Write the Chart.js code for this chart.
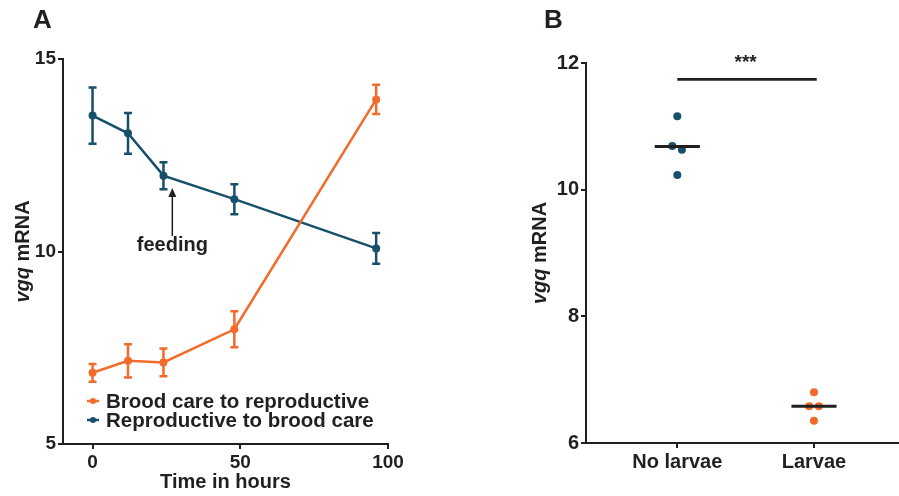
<!DOCTYPE html>
<html>
<head>
<meta charset="utf-8">
<script src="https://cdn.jsdelivr.net/npm/chart.js@4.4.0/dist/chart.umd.min.js"></script>
<style>
  body { margin: 0; background: #fff; }
  #wrap { position: relative; width: 899px; height: 496px; overflow: hidden; }
  canvas { position: absolute; top: 0; }
  .panel { position: absolute; top: 4px; font: bold 26px "Liberation Sans", Arial, sans-serif; color: #231f20; }
</style>
</head>
<body>
<div id="wrap">
  <canvas id="chartA" width="440" height="496" style="left:0"></canvas>
  <canvas id="chartB" width="453" height="496" style="left:450px"></canvas>
  <div class="panel" style="left:33px">A</div>
  <div class="panel" style="left:544px">B</div>
</div>
<script>
// Panel A data
const hours = [0, 12, 24, 48, 96];
const broodToRepro = [6.85, 7.16, 7.12, 7.98, 13.95];
const broodToReproErr = [0.23, 0.43, 0.36, 0.47, 0.38];
const reproToBrood = [13.53, 13.07, 11.97, 11.36, 10.08];
const reproToBroodErr = [0.73, 0.53, 0.35, 0.39, 0.40];
const xTicksA = [0, 50, 100];
const yTicksA = [5, 10, 15];
const feeding = { hour: 27, from: 10.4, to: 11.65, label: 'feeding' };

// Panel B data
const groups = ['No larvae', 'Larvae'];
const noLarvae = [11.16, 10.69, 10.63, 10.23];
const noLarvaeJitter = [0, -0.037, 0.034, 0];
const larvae = [6.80, 6.58, 6.58, 6.35];
const larvaeJitter = [0, -0.035, 0.036, 0];
const medians = [10.68, 6.58];
const yTicksB = [6, 8, 10, 12];
const signif = { y: 11.74, label: '***' };

const orange = '#f26b2a';
const teal = '#17506a';
const ink = '#231f20';
const FONT = '"Liberation Sans", Arial, sans-serif';

function drawYTitle(ctx, x, y, size) {
    ctx.save();
    ctx.translate(x, y);
    ctx.rotate(-Math.PI / 2);
    const it = 'italic bold ' + size + 'px ' + FONT;
    const bd = 'bold ' + size + 'px ' + FONT;
    ctx.font = it;
    const w1 = ctx.measureText('vgq ').width;
    ctx.font = bd;
    const w2 = ctx.measureText('mRNA').width;
    const start = -(w1 + w2) / 2;
    ctx.fillStyle = ink;
    ctx.textBaseline = 'middle';
    ctx.textAlign = 'left';
    ctx.font = it;
    ctx.fillText('vgq ', start, 0);
    ctx.font = bd;
    ctx.fillText('mRNA', start + w1, 0);
    ctx.restore();
}

// error bars, legend, arrow, y title for panel A
const panelAExtras = {
    id: 'panelAExtras',
    afterDatasetsDraw(chart) {
        const ctx = chart.ctx;
        const xs = chart.scales.x, ys = chart.scales.y;
        chart.data.datasets.forEach(ds => {
            ctx.save();
            ctx.strokeStyle = ds.borderColor;
            ctx.lineWidth = 2.5;
            ds.data.forEach((p, i) => {
                const x = xs.getPixelForValue(p.x);
                const yt = ys.getPixelForValue(p.y + ds.errors[i]);
                const yb = ys.getPixelForValue(p.y - ds.errors[i]);
                ctx.beginPath();
                ctx.moveTo(x, yt); ctx.lineTo(x, yb);
                ctx.moveTo(x - 4, yt); ctx.lineTo(x + 4, yt);
                ctx.moveTo(x - 4, yb); ctx.lineTo(x + 4, yb);
                ctx.stroke();
            });
            ctx.restore();
        });

        // feeding arrow
        const ax = xs.getPixelForValue(feeding.hour);
        const a0 = ys.getPixelForValue(feeding.from);
        const a1 = ys.getPixelForValue(feeding.to);
        ctx.save();
        ctx.strokeStyle = ink;
        ctx.fillStyle = ink;
        ctx.lineWidth = 1.5;
        ctx.beginPath();
        ctx.moveTo(ax, a0); ctx.lineTo(ax, a1 + 6);
        ctx.stroke();
        ctx.beginPath();
        ctx.moveTo(ax, a1); ctx.lineTo(ax - 4, a1 + 9); ctx.lineTo(ax + 4, a1 + 9);
        ctx.closePath();
        ctx.fill();
        ctx.font = 'bold 20px ' + FONT;
        ctx.textAlign = 'center';
        ctx.textBaseline = 'middle';
        ctx.fillText(feeding.label, ax, a0 + 9);
        ctx.restore();

        // legend
        ctx.save();
        chart.data.datasets.forEach((ds, i) => {
            const ly = 401 + i * 19;
            ctx.strokeStyle = ds.borderColor;
            ctx.fillStyle = ds.borderColor;
            ctx.lineWidth = 2.5;
            ctx.beginPath();
            ctx.moveTo(87, ly); ctx.lineTo(99, ly);
            ctx.stroke();
            ctx.beginPath();
            ctx.arc(93, ly, 3, 0, Math.PI * 2);
            ctx.fill();
            ctx.fillStyle = ink;
            ctx.font = 'bold 20.5px ' + FONT;
            ctx.textAlign = 'left';
            ctx.textBaseline = 'middle';
            ctx.fillText(ds.label, 106, ly + 1);
        });
        ctx.restore();

        drawYTitle(ctx, 23, (ys.top + ys.bottom) / 2, 20);
    }
};

const axisStyle = (ticks, fontSize) => ({
    afterBuildTicks: s => { s.ticks = ticks.map(v => ({ value: v })); },
    grid: { display: true, drawOnChartArea: false, drawTicks: true, tickLength: 5, color: ink, lineWidth: 2 },
    border: { display: true, color: ink, width: 2 },
    ticks: { color: ink, font: { family: FONT, size: fontSize, weight: 'bold' }, padding: 2 }
});

new Chart(document.getElementById('chartA'), {
    type: 'line',
    data: {
        datasets: [
            {
                label: 'Brood care to reproductive',
                data: hours.map((h, i) => ({ x: h, y: broodToRepro[i] })),
                errors: broodToReproErr,
                borderColor: orange, backgroundColor: orange,
                borderWidth: 2.5, pointRadius: 4, pointBorderWidth: 0
            },
            {
                label: 'Reproductive to brood care',
                data: hours.map((h, i) => ({ x: h, y: reproToBrood[i] })),
                errors: reproToBroodErr,
                borderColor: teal, backgroundColor: teal,
                borderWidth: 2.5, pointRadius: 4, pointBorderWidth: 0
            }
        ]
    },
    options: {
        responsive: false,
        animation: false,
        layout: { padding: { top: 59, right: 52, left: 0, bottom: 0 } },
        scales: {
            x: Object.assign(axisStyle(xTicksA, 19), {
                type: 'linear', min: -10, max: 100,
                afterFit: s => { s.height = 52; },
                title: { display: true, text: 'Time in hours', color: ink,
                         font: { family: FONT, size: 20, weight: 'bold' }, padding: { top: 0, bottom: 2 } }
            }),
            y: Object.assign(axisStyle(yTicksA, 19), {
                min: 5, max: 15,
                afterFit: s => { s.width = 63; }
            })
        },
        plugins: { legend: { display: false }, tooltip: { enabled: false } }
    },
    plugins: [panelAExtras]
});

// significance mark and y title for panel B
const panelBExtras = {
    id: 'panelBExtras',
    afterDatasetsDraw(chart) {
        const ctx = chart.ctx;
        const xs = chart.scales.x, ys = chart.scales.y;
        ctx.save();
        ctx.fillStyle = ink;
        ctx.font = 'bold 19px ' + FONT;
        ctx.textAlign = 'center';
        ctx.textBaseline = 'middle';
        ctx.fillText(signif.label, xs.getPixelForValue(0.5), ys.getPixelForValue(signif.y) - 17);
        ctx.restore();
        drawYTitle(ctx, 540 - 450, (ys.top + ys.bottom) / 2, 20);
    }
};

const dot = (vals, jitter, gi) => vals.map((v, i) => ({ x: gi + jitter[i], y: v }));
const medianLine = gi => [{ x: gi - 0.165, y: medians[gi] }, { x: gi + 0.165, y: medians[gi] }];

new Chart(document.getElementById('chartB'), {
    type: 'scatter',
    data: {
        datasets: [
            { label: 'median ' + groups[0], type: 'line', data: medianLine(0), borderColor: ink, borderWidth: 3, pointRadius: 0 },
            { label: 'median ' + groups[1], type: 'line', data: medianLine(1), borderColor: ink, borderWidth: 3, pointRadius: 0 },
            { label: groups[0], data: dot(noLarvae, noLarvaeJitter, 0), backgroundColor: teal, pointRadius: 4, pointBorderWidth: 0 },
            { label: groups[1], data: dot(larvae, larvaeJitter, 1), backgroundColor: orange, pointRadius: 4, pointBorderWidth: 0 },
            { label: 'significance', type: 'line', data: [{ x: 0, y: signif.y }, { x: 1.02, y: signif.y }], borderColor: ink, borderWidth: 2.7, pointRadius: 0 }
        ]
    },
    options: {
        responsive: false,
        animation: false,
        layout: { padding: { top: 63, right: 0, left: 0, bottom: 0 } },
        scales: {
            x: Object.assign(axisStyle([0, 1], 20), {
                type: 'linear', min: -0.668, max: 1.622,
                afterFit: s => { s.height = 53; }
            }),
            y: Object.assign(axisStyle(yTicksB, 20), {
                min: 6, max: 12,
                afterFit: s => { s.width = 136; }
            })
        },
        plugins: { legend: { display: false }, tooltip: { enabled: false } }
    },
    plugins: [panelBExtras]
});
Chart.getChart('chartB').options.scales.x.ticks.callback = v => groups[v];
Chart.getChart('chartB').update();
</script>
</body>
</html>
